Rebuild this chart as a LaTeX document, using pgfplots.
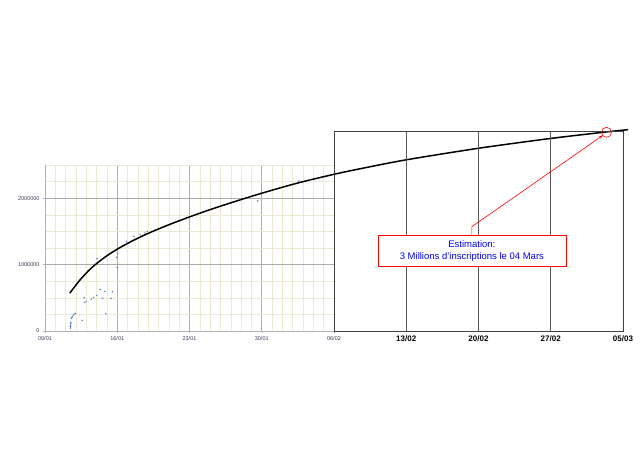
\documentclass[border=0pt]{standalone}
\usepackage{pgfplots}
\pgfplotsset{compat=1.18}
\usepackage{fontspec}
\setmainfont{Liberation Sans}
\usetikzlibrary{arrows.meta}
\definecolor{gridminor}{HTML}{ECE9D2}
\definecolor{ptblue}{HTML}{4F81BD}
\definecolor{lbl}{HTML}{3A3A5A}
\begin{document}
\begin{tikzpicture}
\useasboundingbox (0pt,0pt) rectangle (640pt,452pt);
% left part: observed registrations (days after 09/01)
\begin{axis}[
  at={(45pt,121pt)}, anchor=south west,
  width=289pt, height=166pt, scale only axis,
  xmin=0, xmax=28, ymin=0, ymax=2500000,
  axis x line*=bottom, axis y line*=left,
  axis line style={draw=gray!60,-},
  xtick={0,7,14,21,28}, xticklabels={09/01,16/01,23/01,30/01,06/02},
  ytick={0,1000000,2000000}, yticklabels={0,1000000,2000000},
  scaled y ticks=false,
  minor xtick={1,2,3,4,5,6,8,9,10,11,12,13,15,16,17,18,19,20,22,23,24,25,26,27},
  minor ytick={250000,500000,750000,1250000,1500000,1750000,2250000,2500000},
  grid=both,
  major grid style={gray!65,line width=0.6pt},
  minor grid style={gridminor,line width=0.5pt},
  tick style={gray!60}, tick align=outside,
  major tick length=2pt, minor tick length=0pt,
  ticklabel style={font=\fontsize{5.5}{6}\selectfont,text=lbl},
  clip=false,
]
\addplot[only marks, mark=*, mark size=0.5pt, ptblue] coordinates {
  (2.45,45000) (2.45,65000) (2.5,85000) (2.5,110000) (2.5,130000)
  (2.55,190000) (2.6,200000) (2.65,220000) (2.75,240000) (2.9,260000)
  (2.95,265000) (3.6,160000) (3.8,500000) (3.85,430000) (4.0,450000)
  (4.5,480000) (4.7,505000) (5.0,535000) (5.05,1090000) (5.35,625000)
  (5.6,495000) (5.8,595000) (5.9,260000) (6.4,490000) (6.55,590000)
  (6.95,1110000) (7.05,1170000) (7.0,960000) (7.9,1350000) (8.6,1420000)
  (9.2,1455000) (9.7,1475000) (9.9,1500000) (20.6,1960000) (24.6,2260000)
  (25.7,2270000)
};
\addplot[black, line width=1.5pt, smooth] coordinates {
  (2.4,570000) (3.4,770000) (4.4,935000) (5.4,1065000) (6.4,1175000)
  (7.4,1268000) (8.4,1352000) (9.4,1428000) (10.4,1498000) (12,1600000)
  (14,1718000) (16,1828000) (18.6,1960000) (21,2075000) (24.4,2225000)
  (28,2360000) (31,2458000) (35,2578000) (42,2752000) (49,2900000)
  (54.5,3000000) (56.5,3032000)
};
\end{axis}
% right part: extrapolation frame
\begin{axis}[
  at={(334pt,121pt)}, anchor=south west,
  width=289pt, height=200pt, scale only axis,
  xmin=28, xmax=56, ymin=0, ymax=3000000,
  ytick=\empty,
  xtick={35,42,49,56}, xticklabels={13/02,20/02,27/02,05/03},
  xmajorgrids,
  major grid style={black!65,line width=0.7pt},
  axis line style={black!75,line width=0.8pt},
  major tick length=0pt,
  ticklabel style={font=\bfseries\fontsize{8}{9}\selectfont,yshift=-1.5pt},
  clip=false,
]
\draw[red, line width=0.6pt] (axis cs:54.4,2980000) circle[radius=5pt];
\draw[red, line width=0.6pt, -{Stealth[length=4pt,width=3pt]}]
  (axis cs:41.36,1430000) -- (axis cs:41.36,1565000) -- (axis cs:54.05,2935000);
\node[draw=red, line width=0.6pt, fill=white, text=blue, align=center,
  minimum width=188pt, minimum height=31pt, inner sep=1pt,
  font=\fontsize{9.5}{11.5}\selectfont]
  at (axis cs:41.36,1197000) {Estimation:\\3 Millions d'inscriptions le 04 Mars};
\end{axis}
\end{tikzpicture}
\end{document}
